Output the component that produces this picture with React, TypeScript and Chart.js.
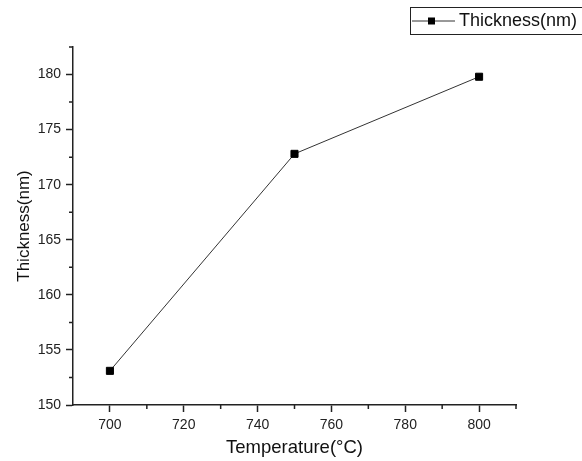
import React, { useEffect, useRef } from 'react';
import { Chart, registerables } from 'chart.js';
Chart.register(...registerables);

const temperatures = [700, 750, 800];
const thickness = [153.1, 172.8, 179.8];
const xTicks = [700, 720, 740, 760, 780, 800];
const yTicks = [150, 155, 160, 165, 170, 175, 180];
const xMinor = [710, 730, 750, 770, 790, 810];
const yMinor = [152.5, 157.5, 162.5, 167.5, 172.5, 177.5, 182.5];
const seriesLabel = 'Thickness(nm)';
const xTitle = 'Temperature(°C)';
const yTitle = 'Thickness(nm)';

const FONT = '"Liberation Sans", Arial, sans-serif';
const AXIS = '#222';

const minorTicks = {
  id: 'minorTicks',
  afterDraw(chart: any) {
    const ctx = chart.ctx;
    const xs = chart.scales.x;
    const ys = chart.scales.y;
    const area = chart.chartArea;
    ctx.save();
    ctx.strokeStyle = AXIS;
    ctx.lineWidth = 1.5;
    ctx.beginPath();
    xMinor.forEach((v) => {
      const px = xs.getPixelForValue(v);
      ctx.moveTo(px, area.bottom);
      ctx.lineTo(px, area.bottom + 4);
    });
    yMinor.forEach((v) => {
      const py = ys.getPixelForValue(v);
      ctx.moveTo(area.left, py);
      ctx.lineTo(area.left - 4, py);
    });
    ctx.stroke();
    ctx.restore();
  },
};

const legendBox = {
  id: 'legendBox',
  afterDraw(chart: any) {
    const ctx = chart.ctx;
    const ds = chart.data.datasets[0];
    ctx.save();
    ctx.strokeStyle = '#222';
    ctx.lineWidth = 1;
    ctx.strokeRect(410.5, 7.5, 200, 27);
    ctx.beginPath();
    ctx.strokeStyle = '#333';
    ctx.moveTo(412, 21);
    ctx.lineTo(455, 21);
    ctx.stroke();
    ctx.fillStyle = '#000';
    ctx.fillRect(428, 17.5, 7, 7);
    ctx.font = `18px ${FONT}`;
    ctx.textBaseline = 'middle';
    ctx.fillStyle = '#111';
    ctx.fillText(ds.label, 459, 21.5);
    ctx.restore();
  },
};

export default function App() {
  const ref = useRef<HTMLCanvasElement>(null);
  useEffect(() => {
    document.body.style.margin = '0';
    const chart = new Chart(ref.current as HTMLCanvasElement, {
      type: 'line',
      data: {
        datasets: [
          {
            label: seriesLabel,
            data: temperatures.map((t, i) => ({ x: t, y: thickness[i] })),
            borderColor: '#333',
            borderWidth: 1,
            pointStyle: 'rect',
            pointRadius: 5,
            pointBackgroundColor: '#000',
            pointBorderColor: '#000',
            pointBorderWidth: 1,
            tension: 0,
          },
        ],
      },
      options: {
        animation: false,
        responsive: false,
        layout: { padding: { top: 47, right: 66, left: 0, bottom: 0 } },
        plugins: { legend: { display: false }, tooltip: { enabled: false } },
        scales: {
          x: {
            type: 'linear',
            min: 690,
            max: 810,
            afterBuildTicks: (s: any) => {
              s.ticks = xTicks.map((v) => ({ value: v }));
            },
            afterFit: (s: any) => {
              s.height = 56;
            },
            grid: { drawOnChartArea: false, drawTicks: true, tickLength: 7, tickColor: AXIS, tickWidth: 1.5 },
            border: { display: true, color: AXIS, width: 1.5 },
            ticks: { font: { family: FONT, size: 14 }, color: '#222', padding: 5, maxRotation: 0 },
            title: { display: true, text: xTitle, font: { family: FONT, size: 18.5 }, color: '#111', padding: { top: 0, bottom: 2 } },
          },
          y: {
            type: 'linear',
            min: 150,
            max: 182.5,
            afterBuildTicks: (s: any) => {
              s.ticks = yTicks.map((v) => ({ value: v }));
            },
            afterFit: (s: any) => {
              s.width = 73;
            },
            grid: { drawOnChartArea: false, drawTicks: true, tickLength: 7, tickColor: AXIS, tickWidth: 1.5 },
            border: { display: true, color: AXIS, width: 1.5 },
            ticks: { font: { family: FONT, size: 14 }, color: '#222', padding: 5 },
            title: { display: true, text: yTitle, font: { family: FONT, size: 17 }, color: '#111', padding: { top: 14, bottom: 0 } },
          },
        },
      },
      plugins: [minorTicks, legendBox],
    } as any);
    return () => chart.destroy();
  }, []);
  return (
    <div style={{ position: 'absolute', left: 0, top: 0, width: 582, height: 461, background: '#fff' }}>
      <canvas ref={ref} width={582} height={461} />
    </div>
  );
}
